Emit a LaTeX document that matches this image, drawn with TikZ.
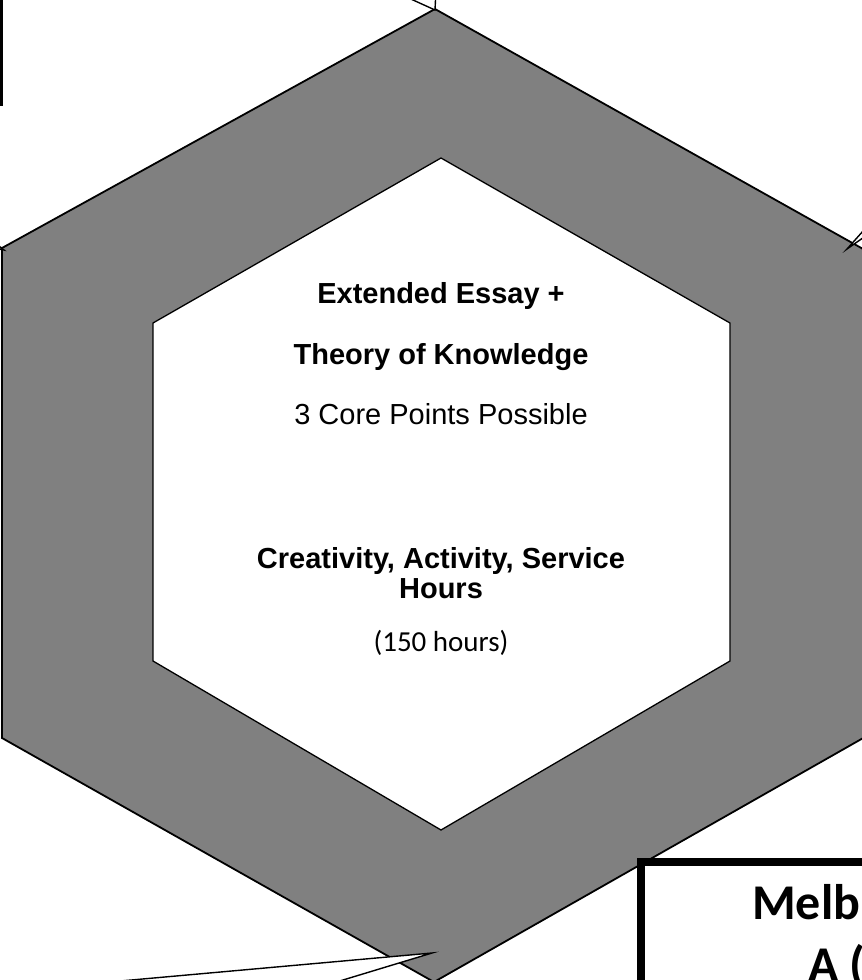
\documentclass[tikz,border=0pt]{standalone}
\usepackage{fontspec}
\setmainfont{Liberation Sans}
\newfontfamily\calibri{Carlito}
\definecolor{hexgray}{RGB}{128,128,128}
\tikzset{
  outerhex/.style={fill=hexgray, draw=black, line width=1.8pt, line join=miter},
  innerhex/.style={fill=white, draw=black, line width=1.3pt, line join=miter},
  pointer/.style={draw=black, line width=1.4pt, line join=miter},
  coretext/.style={anchor=base, inner sep=0pt, font=\fontsize{29}{30}\selectfont},
  boldtext/.style={coretext, font=\fontsize{29}{30}\selectfont\bfseries},
  boxtext/.style={anchor=base west, inner sep=0pt, font=\calibri\bfseries\fontsize{50}{60}\selectfont}
}
\begin{document}
\begin{tikzpicture}[x=1pt,y=-1pt]
\useasboundingbox (0,0) rectangle (862,980);
\clip (0,0) rectangle (862,980);
\fill[white] (0,0) rectangle (862,980);

% outer hexagon
\draw[outerhex] (435,9) -- (872,254) -- (872,733) -- (434,982) -- (2,738) -- (2,248) -- cycle;
% inner hexagon
\draw[innerhex] (441,158) -- (730,323) -- (730,661) -- (441,830) -- (153,661) -- (153,323) -- cycle;

% texts
\node[boldtext] (ee) at (441,303) {Extended Essay +};
\node[boldtext] (tok) at (441,364) {Theory of Knowledge};
\node[coretext] (core) at (441,424) {3 Core Points Possible};
\node[boldtext] (cas) at (441,568) {Creativity, Activity, Service};
\node[boldtext] (hrs) at (441,598) {Hours};
\node[coretext, font=\calibri\fontsize{29}{30}\selectfont] (h150) at (441,651) {(150 hours)};

% top-left box edge
\draw[line width=3pt] (1.4,0) -- (1.4,106);

% callout pointers
\coordinate (ttip) at (435,10);
\coordinate (ta) at (391,-10);
\coordinate (tb) at (436,-10);
\fill[white] (ta) -- (ttip) -- (tb) -- cycle;
\draw[pointer] (ta) -- (ttip) -- (tb);

\coordinate (rtip) at (847,249);
\coordinate (ra) at (880,212);
\coordinate (rb) at (880,226);
\fill[white] (ra) -- (rtip) -- (rb) -- cycle;
\draw[pointer] (ra) -- (rtip) -- (rb);

\coordinate (ltip) at (4,250);
\coordinate (la) at (-6,242);
\coordinate (lb) at (-6,248);
\draw[pointer] (la) -- (ltip) -- (lb);

\coordinate (btip) at (432,953);
\coordinate (ba) at (20,990);
\coordinate (bb) at (310,990);
\fill[white] (ba) -- (btip) -- (bb) -- cycle;
\draw[pointer] (ba) -- (btip) -- (bb);

% bottom-right box
\draw[line width=8pt, fill=white] (641,862) rectangle (920,1040);
\node[boxtext] (melb) at (752,919) {Melb};
\node[boxtext] (aline) at (808,981) {A (};
\end{tikzpicture}
\end{document}
